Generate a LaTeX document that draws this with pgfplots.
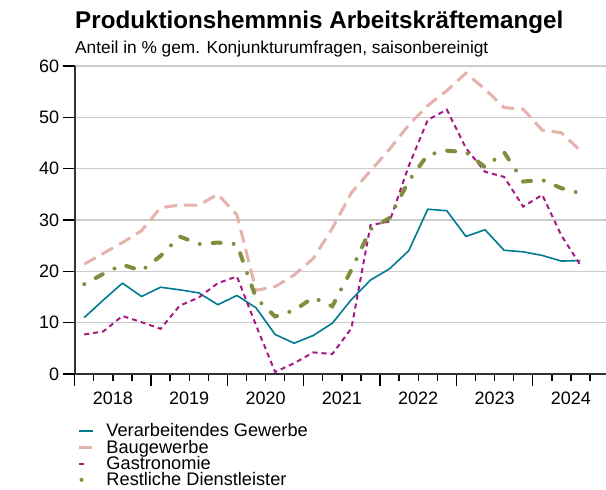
\documentclass[border=0pt]{standalone}
\usepackage{pgfplots}
\pgfplotsset{compat=1.18}
\usepackage{fontspec}
\setmainfont{Liberation Sans}
\definecolor{cV}{RGB}{0,122,145}
\definecolor{cB}{RGB}{230,178,172}
\definecolor{cG}{RGB}{166,25,130}
\definecolor{cR}{RGB}{128,143,62}
\pgfplotsset{
  lgimg/.style={legend image code/.code={\draw[##1] (0pt,0pt) -- (#1,0pt); \path[draw=none,fill=none] (0pt,0pt) (27pt,0pt);}},
  lgdot/.style={legend image code/.code={\draw[##1] (2pt,0pt) -- (8pt,0pt); \path[draw=none,fill=none] (0pt,0pt) (27pt,0pt);}},
}
\begin{document}
\begin{tikzpicture}[x=1pt,y=1pt]
\begin{axis}[
  at={(74.7pt,116pt)}, anchor=south west,
  scale only axis, width=531.3pt, height=308pt,
  xmin=0, xmax=27.84, ymin=0, ymax=60,
  axis x line=bottom, axis y line=left,
  axis line style={-, line width=1.6pt, black!80},
  tick align=outside,
  xtick={0,4,...,24}, xticklabels={2018,2019,2020,2021,2022,2023,2024},
  xticklabel style={xshift=38.17pt, yshift=-2pt},
  minor xtick={1,2,3,5,6,7,9,10,11,13,14,15,17,18,19,21,22,23,25,26,27},
  ytick={0,10,...,60},
  tick label style={font=\fontsize{18}{21}\selectfont},
  major tick length=12pt, minor tick length=7pt,
  every tick/.style={black, line width=1.4pt},
  ymajorgrids, major grid style={black!20, line width=1.2pt},
  /pgf/number format/assume math mode=true,
  legend cell align=left,
  legend style={at={(axis description cs:0.0062,-0.1575)}, anchor=north west,
    draw=none, fill=none, inner sep=0pt, outer sep=0pt, row sep=0pt, column sep=0pt,
    font=\fontsize{18.2}{21}\selectfont,
    nodes={inner sep=0pt, text height=14.2pt, text depth=2.2pt}},
]
\addplot[cV, line width=1.6pt, line join=round, lgimg=14pt]
  coordinates {(0.5,11.0) (1.5,14.4) (2.5,17.7) (3.5,15.1) (4.5,16.9) (5.5,16.4) (6.5,15.8) (7.5,13.5) (8.5,15.3) (9.5,12.9) (10.5,7.7) (11.5,6.0) (12.5,7.5) (13.5,9.9) (14.5,14.5) (15.5,18.3) (16.5,20.5) (17.5,24.0) (18.5,32.1) (19.5,31.8) (20.5,26.8) (21.5,28.1) (22.5,24.1) (23.5,23.8) (24.5,23.1) (25.5,22.0) (26.5,22.1)};
\addlegendentry{Verarbeitendes Gewerbe}
\addplot[cB, line width=3pt, dash pattern=on 13pt off 7pt, lgimg=13pt]
  coordinates {(0.5,21.4) (1.5,23.5) (2.5,25.6) (3.5,27.9) (4.5,32.4) (5.5,32.9) (6.5,32.9) (7.5,35.0) (8.5,31.0) (9.5,16.3) (10.5,17.0) (11.5,19.3) (12.5,22.5) (13.5,28.4) (14.5,35.3) (15.5,39.6) (16.5,43.8) (17.5,48.5) (18.5,52.3) (19.5,55.2) (20.5,58.6) (21.5,55.5) (22.5,51.9) (23.5,51.6) (24.5,47.5) (25.5,47.0) (26.5,43.5)};
\addlegendentry{Baugewerbe}
\addplot[cG, line width=2pt, dash pattern=on 5pt off 4pt, lgimg=6pt]
  coordinates {(0.5,7.7) (1.5,8.3) (2.5,11.3) (3.5,10.1) (4.5,8.8) (5.5,13.3) (6.5,14.9) (7.5,17.7) (8.5,19.0) (9.5,9.5) (10.5,0.4) (11.5,2.1) (12.5,4.2) (13.5,3.9) (14.5,8.9) (15.5,29.0) (16.5,29.7) (17.5,40.5) (18.5,49.5) (19.5,51.5) (20.5,44.0) (21.5,39.4) (22.5,38.4) (23.5,32.6) (24.5,34.9) (25.5,27.0) (26.5,21.2)};
\addlegendentry{Gastronomie}
\addplot[cR, line width=4pt, line cap=round, dash pattern=on 0pt off 13pt on 8pt off 13pt, lgdot]
  coordinates {(0.5,17.5) (1.5,19.5) (2.5,21.3) (3.5,20.1) (4.5,23.0) (5.5,26.8) (6.5,25.3) (7.5,25.6) (8.5,25.3) (9.5,14.8) (10.5,11.2) (11.5,12.4) (12.5,14.9) (13.5,13.2) (14.5,20.3) (15.5,28.2) (16.5,30.4) (17.5,37.6) (18.5,42.7) (19.5,43.5) (20.5,43.2) (21.5,40.3) (22.5,43.2) (23.5,37.5) (24.5,37.8) (25.5,36.2) (26.5,35.2)};
\addlegendentry{Restliche Dienstleister}
\end{axis}
\node[anchor=base west, inner sep=0pt, font=\fontsize{24.2}{28}\selectfont\bfseries] at (75pt,461.5pt) {Produktionshemmnis Arbeitskräftemangel};
\node[anchor=base west, inner sep=0pt, font=\fontsize{17.3}{20}\selectfont] at (75pt,436.7pt) {Anteil in \% gem. Konjunkturumfragen, saisonbereinigt};
\pgfresetboundingbox
\useasboundingbox (0pt,0pt) rectangle (606pt,490pt);
\end{tikzpicture}
\end{document}
